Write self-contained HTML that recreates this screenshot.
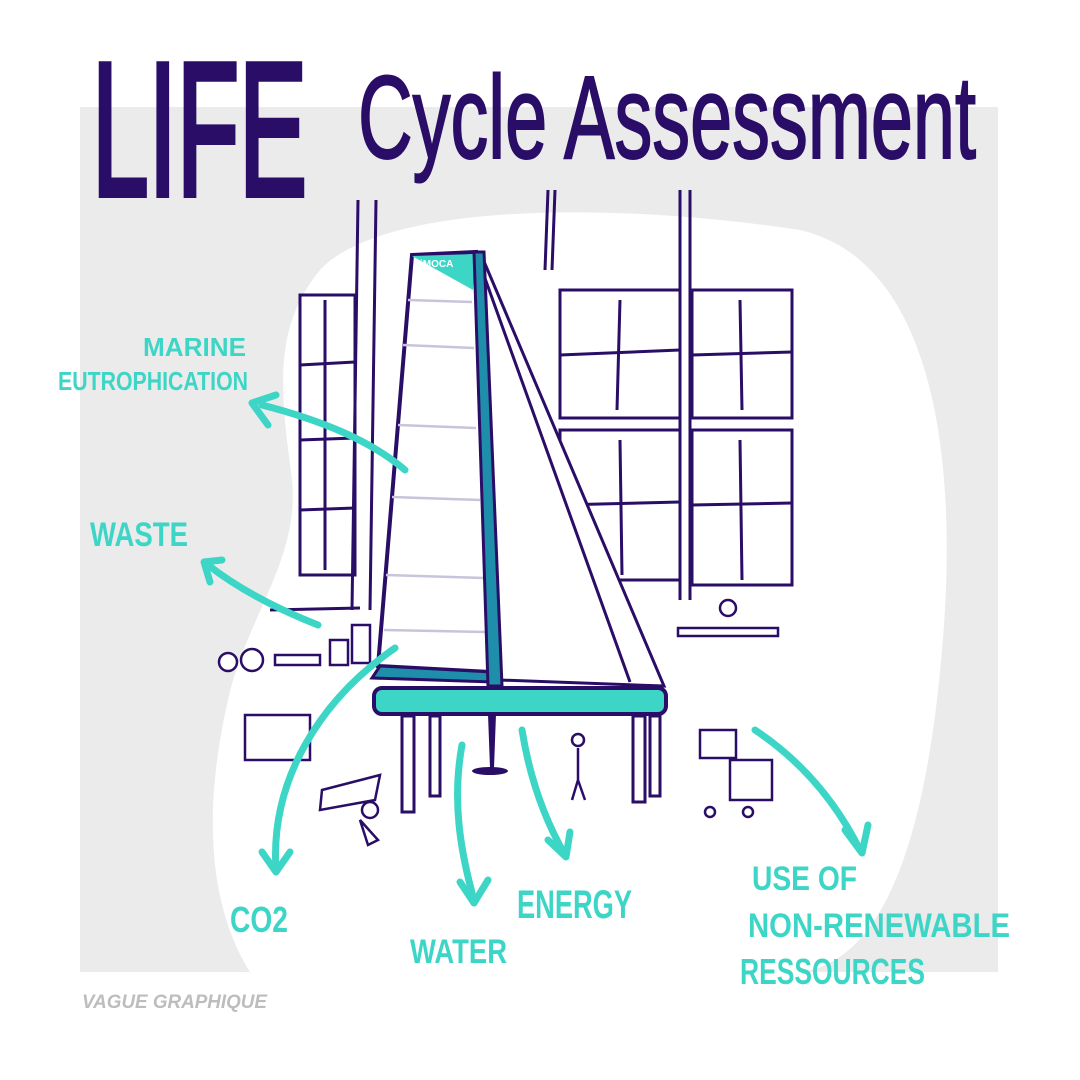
<!DOCTYPE html>
<html><head><meta charset="utf-8"><style>
html,body{margin:0;padding:0;background:#fff}
svg{display:block}
text{font-family:"Liberation Sans",sans-serif}
</style></head><body>
<svg width="1080" height="1080" viewBox="0 0 1080 1080" xmlns="http://www.w3.org/2000/svg">
<rect x="80" y="107" width="918" height="865" fill="#ebebeb"/>
<path d="M320,270 C380,205 600,200 800,230 C930,260 960,450 942,650 C925,850 880,962 800,972 L250,972 C205,900 205,800 228,700 C245,620 300,560 292,480 C282,400 270,330 320,270 Z" fill="#fff"/>
<!-- title -->
<text x="92" y="195" font-size="190" fill="#2a0d66" stroke="#2a0d66" stroke-width="6" textLength="215" lengthAdjust="spacingAndGlyphs">LIFE</text>
<text x="358" y="158" font-size="118" fill="#2a0d66" stroke="#2a0d66" stroke-width="2" textLength="618" lengthAdjust="spacingAndGlyphs">Cycle Assessment</text>
<!-- windows -->
<g stroke="#2a0d66" stroke-width="3" fill="none">
<line x1="358" y1="200" x2="352" y2="610"/><line x1="376" y1="200" x2="370" y2="610"/>
<line x1="548" y1="190" x2="545" y2="270"/><line x1="555" y1="190" x2="552" y2="270"/>
<line x1="680" y1="190" x2="680" y2="600"/><line x1="690" y1="190" x2="690" y2="600"/>
<rect x="560" y="290" width="120" height="128"/>
<rect x="692" y="290" width="100" height="128"/>
<rect x="560" y="430" width="120" height="150"/>
<rect x="692" y="430" width="100" height="155"/>
<rect x="300" y="295" width="55" height="280"/>
<line x1="560" y1="355" x2="680" y2="350"/><line x1="620" y1="300" x2="617" y2="410"/>
<line x1="692" y1="355" x2="792" y2="352"/><line x1="740" y1="300" x2="742" y2="410"/>
<line x1="560" y1="505" x2="680" y2="502"/><line x1="620" y1="440" x2="622" y2="575"/>
<line x1="692" y1="505" x2="792" y2="503"/><line x1="740" y1="440" x2="742" y2="580"/>
<line x1="300" y1="365" x2="355" y2="362"/><line x1="300" y1="440" x2="355" y2="438"/><line x1="300" y1="510" x2="355" y2="508"/><line x1="325" y1="300" x2="325" y2="570"/>
<line x1="270" y1="610" x2="360" y2="608"/>
</g>
<!-- jib -->
<path d="M480,252 L664,686 L500,680 Z" fill="#fff" stroke="#2a0d66" stroke-width="3"/>
<path d="M482,270 L630,682" stroke="#2a0d66" stroke-width="3"/>
<!-- mainsail -->
<path d="M412,255 L476,252 L490,672 L378,666 Z" fill="#fff" stroke="#2a0d66" stroke-width="4"/>
<path d="M412,256 L476,254 L473,290 Z" fill="#3dd6c6"/>
<text x="420" y="267" font-size="10" fill="#fff" font-weight="bold">iMOCA</text>
<g stroke="#c8c4dc" stroke-width="2.5">
<line x1="408" y1="300" x2="472" y2="302"/><line x1="403" y1="345" x2="474" y2="348"/>
<line x1="398" y1="425" x2="476" y2="428"/><line x1="392" y1="497" x2="480" y2="500"/>
<line x1="386" y1="575" x2="484" y2="578"/><line x1="384" y1="630" x2="486" y2="632"/>
</g>
<path d="M380,666 L492,672 L492,682 L372,678 Z" fill="#1f8eaa" stroke="#2a0d66" stroke-width="3"/>
<!-- mast -->
<path d="M474,252 L484,252 L502,686 L488,686 Z" fill="#1f8eaa" stroke="#2a0d66" stroke-width="3"/>
<!-- hull -->
<rect x="374" y="688" width="292" height="26" rx="8" fill="#3dd6c6" stroke="#2a0d66" stroke-width="4"/>
<g stroke="#2a0d66" stroke-width="3" fill="#fff">
<rect x="402" y="716" width="12" height="96"/><rect x="430" y="716" width="10" height="80"/>
<rect x="633" y="716" width="12" height="86"/><rect x="650" y="716" width="10" height="80"/>
</g>
<path d="M488,714 L496,714 L494,768 L490,768 Z" fill="#2a0d66"/>
<ellipse cx="490" cy="771" rx="18" ry="4" fill="#2a0d66"/>
<!-- small props -->
<g stroke="#2a0d66" stroke-width="2.5" fill="#fff">
<circle cx="228" cy="662" r="9"/><circle cx="252" cy="660" r="11"/>
<rect x="275" y="655" width="45" height="10"/><rect x="330" y="640" width="18" height="25"/><rect x="352" y="625" width="18" height="38"/>
<rect x="245" y="715" width="65" height="45"/>
<path d="M322,790 L380,775 L375,800 L320,810 Z"/>
<rect x="678" y="628" width="100" height="8"/>
<circle cx="728" cy="608" r="8"/>
<rect x="700" y="730" width="36" height="28"/>
<rect x="730" y="760" width="42" height="40"/>
<circle cx="710" cy="812" r="5"/><circle cx="748" cy="812" r="5"/>
<circle cx="578" cy="740" r="6"/><path d="M578,748 L578,780 L572,800 M578,780 L585,800"/>
<circle cx="370" cy="810" r="8"/><path d="M360,820 L378,840 L368,845Z"/>
</g>
<!-- arrows -->
<g stroke="#3dd6c6" stroke-width="7" fill="none" stroke-linecap="round" stroke-linejoin="round">
<path d="M405,470 C370,440 320,420 262,405"/><path d="M276,395 L252,403 L268,425"/>
<path d="M318,625 C280,610 240,590 208,565"/><path d="M222,560 L204,562 L210,582"/>
<path d="M395,648 C320,700 270,780 276,870"/><path d="M262,852 L276,872 L290,852"/>
<path d="M462,745 C452,800 460,850 474,900"/><path d="M460,882 L474,903 L488,880"/>
<path d="M522,730 C530,780 545,820 565,855"/><path d="M548,840 L566,857 L570,832"/>
<path d="M755,730 C800,760 835,800 860,850"/><path d="M845,830 L862,853 L868,825"/>
</g>
<g fill="#3dd6c6" font-weight="bold">
<text x="143" y="356" font-size="26" textLength="103" lengthAdjust="spacingAndGlyphs">MARINE</text>
<text x="58" y="390" font-size="26" textLength="190" lengthAdjust="spacingAndGlyphs">EUTROPHICATION</text>
<text x="90" y="546" font-size="34" textLength="98" lengthAdjust="spacingAndGlyphs">WASTE</text>
<text x="230" y="932" font-size="36" textLength="58" lengthAdjust="spacingAndGlyphs">CO2</text>
<text x="410" y="963" font-size="34" textLength="97" lengthAdjust="spacingAndGlyphs">WATER</text>
<text x="517" y="918" font-size="40" textLength="115" lengthAdjust="spacingAndGlyphs">ENERGY</text>
<text x="752" y="890" font-size="34" textLength="105" lengthAdjust="spacingAndGlyphs">USE OF</text>
<text x="748" y="937" font-size="34" textLength="262" lengthAdjust="spacingAndGlyphs">NON-RENEWABLE</text>
<text x="740" y="984" font-size="36" textLength="185" lengthAdjust="spacingAndGlyphs">RESSOURCES</text>
</g>
<text x="82" y="1008" font-size="19" font-style="italic" font-weight="bold" fill="#bdbdbd" textLength="185" lengthAdjust="spacingAndGlyphs">VAGUE GRAPHIQUE</text>
</svg>
</body></html>
